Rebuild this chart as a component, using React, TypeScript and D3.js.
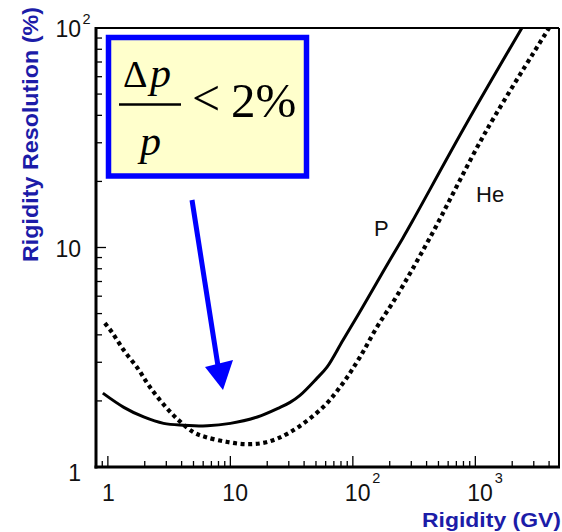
import React from "react";
import * as d3 from "d3";

// Rigidity resolution curves for protons (P) and helium (He)
const pRigidity = [0.91, 1.35, 1.96, 2.85, 4.15, 6.5, 10, 16.6, 25.5, 30.7, 37, 51, 61.5, 83, 120, 175, 255, 307, 845, 2400];
const pResolution = [2.17, 1.87, 1.69, 1.58, 1.55, 1.54, 1.58, 1.69, 1.87, 1.97, 2.12, 2.54, 2.85, 3.78, 5.34, 7.7, 11.0, 13.2, 36.6, 100];

const heRigidity = [0.945, 1.08, 1.35, 1.75, 2.15, 2.8, 3.71, 5.0, 6.26, 9.46, 13.7, 20, 30.7, 57, 83, 114, 157, 228, 423, 1228, 4000];
const heResolution = [4.52, 4.11, 3.4, 2.82, 2.36, 1.95, 1.65, 1.44, 1.37, 1.3, 1.27, 1.3, 1.44, 1.87, 2.41, 3.16, 4.33, 6.0, 11.0, 34.0, 100];

// Axis ranges and tick labels ("base^exponent")
const xDomain = [0.8, 4820];
const yDomain = [1, 100];
const xTickValues = [1, 10, 100, 1000];
const xTickLabels = ["1", "10", "10^2", "10^3"];
const yTickValues = [1, 10, 100];
const yTickLabels = ["1", "10", "10^2"];

const xTitle = "Rigidity (GV)";
const yTitle = "Rigidity Resolution (%)";
const seriesNames = ["P", "He"];

const SANS = "'Liberation Sans', Arial, Helvetica, sans-serif";
const SERIF = "'Liberation Serif', 'Times New Roman', Times, serif";
const TITLE_BLUE = "#1c1ca8";
const BLUE = "#0000ff";

function logMinorTicks(lo: number, hi: number): number[] {
  const out: number[] = [];
  for (let e = -1; e <= 4; e++) {
    for (let m = 1; m <= 9; m++) {
      const v = m * Math.pow(10, e);
      if (v >= lo && v <= hi) out.push(v);
    }
  }
  return out;
}

function isDecade(v: number) {
  const l = Math.log10(v);
  return Math.abs(l - Math.round(l)) < 1e-9;
}

function splitLabel(s: string) {
  const [base, exp] = s.split("^");
  return { base, exp };
}

export default function App() {
  const left = 96, right = 559, top = 28, bottom = 467;
  const x = d3.scaleLog().domain(xDomain).range([left, right]);
  const y = d3.scaleLog().domain(yDomain).range([bottom, top]);

  const line = d3
    .line<[number, number]>()
    .x((d) => x(d[0]))
    .y((d) => y(d[1]))
    .curve(d3.curveCatmullRom.alpha(0.5));

  const pPath = line(pRigidity.map((r, i) => [r, pResolution[i]] as [number, number])) || "";
  const hePath = line(heRigidity.map((r, i) => [r, heResolution[i]] as [number, number])) || "";

  const xTicks = logMinorTicks(xDomain[0], xDomain[1]);
  const yTicks = logMinorTicks(yDomain[0], yDomain[1]).filter((v) => v > yDomain[0] && v < yDomain[1]);

  return (
    <svg
      width={562}
      height={532}
      viewBox="0 0 562 532"
      style={{ position: "absolute", left: 0, top: 0, background: "#fff" }}
    >
      <defs>
        <clipPath id="plotClip">
          <rect x={left} y={top} width={right - left} height={bottom - top} />
        </clipPath>
      </defs>

      {/* Curves */}
      <g clipPath="url(#plotClip)">
        <path d={pPath} fill="none" stroke="#000" strokeWidth={3} />
        <path d={hePath} fill="none" stroke="#000" strokeWidth={4.2} strokeDasharray="4 3.6" />
      </g>

      {/* Frame */}
      <line x1={left} y1={top} x2={right} y2={top} stroke="#000" strokeWidth={2} />
      <line x1={right} y1={top} x2={right} y2={bottom} stroke="#000" strokeWidth={2} />
      <line x1={left} y1={top - 1} x2={left} y2={bottom + 1.5} stroke="#000" strokeWidth={3} />
      <line x1={left - 1.5} y1={bottom} x2={right + 1} y2={bottom} stroke="#000" strokeWidth={3} />

      {/* Bottom ticks (inward) */}
      {xTicks.map((v) => {
        const len = isDecade(v) ? 11 : 6;
        return <line key={`xt${v}`} x1={x(v)} x2={x(v)} y1={bottom} y2={bottom - len} stroke="#000" strokeWidth={1.3} />;
      })}
      {/* Left ticks (inward) */}
      {yTicks.map((v) => {
        const len = isDecade(v) ? 10 : 6;
        return <line key={`yt${v}`} x1={left} x2={left + len} y1={y(v)} y2={y(v)} stroke="#000" strokeWidth={1.3} />;
      })}

      {/* X tick labels */}
      {xTickValues.map((v, i) => {
        const { base, exp } = splitLabel(xTickLabels[i]);
        const px = x(v);
        if (base.length === 1) {
          return (
            <text key={`xl${v}`} x={px + 0.5} y={501} textAnchor="middle" fontFamily={SANS} fontSize={23} fill="#111">
              {base}
            </text>
          );
        }
        return (
          <g key={`xl${v}`}>
            <text x={px - 8} y={501} fontFamily={SANS} fontSize={23} fill="#111">
              {base}
            </text>
            {exp && (
              <text x={px + 19.5} y={483} fontFamily={SANS} fontSize={14.5} fill="#111">
                {exp}
              </text>
            )}
          </g>
        );
      })}

      {/* Y tick labels */}
      {yTickValues.map((v, i) => {
        const { base, exp } = splitLabel(yTickLabels[i]);
        const baseline = y(v) + (v === yDomain[0] ? 14 : 9);
        return (
          <g key={`yl${v}`}>
            <text x={81} y={baseline} textAnchor="end" fontFamily={SANS} fontSize={23} fill="#111">
              {base}
            </text>
            {exp && (
              <text x={82.5} y={baseline - 13} fontFamily={SANS} fontSize={14.5} fill="#111">
                {exp}
              </text>
            )}
          </g>
        );
      })}

      {/* Axis titles */}
      <text
        transform="translate(38,134.5) rotate(-90)"
        textAnchor="middle"
        fontFamily={SANS}
        fontWeight="bold"
        fontSize={22}
        fill={TITLE_BLUE}
        textLength={255}
        lengthAdjust="spacingAndGlyphs"
      >
        {yTitle}
      </text>
      <text
        x={422}
        y={527}
        fontFamily={SANS}
        fontWeight="bold"
        fontSize={21}
        fill={TITLE_BLUE}
        textLength={139}
        lengthAdjust="spacingAndGlyphs"
      >
        {xTitle}
      </text>

      {/* Series labels */}
      <text x={374} y={236} fontFamily={SANS} fontSize={22} fill="#111">
        {seriesNames[0]}
      </text>
      <text x={476} y={202} fontFamily={SANS} fontSize={22} fill="#111">
        {seriesNames[1]}
      </text>

      {/* Resolution requirement box */}
      <rect x={108.5} y={37.5} width={198} height={138.5} fill="#ffffcc" stroke={BLUE} strokeWidth={5.5} />
      <text x={123} y={87} fontFamily={SERIF} fontSize={38} fill="#000">
        Δ
      </text>
      <text x={150} y={87} fontFamily={SERIF} fontStyle="italic" fontSize={42} fill="#000">
        p
      </text>
      <line x1={119} x2={181} y1={104.5} y2={104.5} stroke="#000" strokeWidth={2.5} />
      <text x={140} y={155} fontFamily={SERIF} fontStyle="italic" fontSize={42} fill="#000">
        p
      </text>
      <text x={192} y={115} fontFamily={SERIF} fontSize={50} fill="#000">
        {"<"}
      </text>
      <text x={231} y={117} fontFamily={SERIF} fontSize={49} fill="#000">
        2%
      </text>

      {/* Arrow pointing at the resolution minimum */}
      <line x1={192} y1={200} x2={218} y2={366} stroke={BLUE} strokeWidth={5} />
      <polygon points="205,367 233,360 223,390" fill={BLUE} />
    </svg>
  );
}
